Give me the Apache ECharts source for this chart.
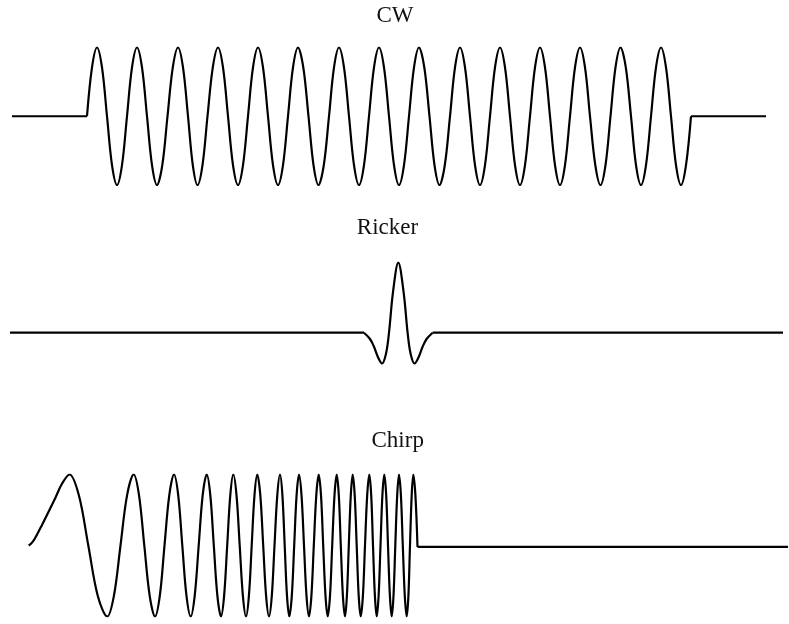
<!DOCTYPE html>
<html>
<head>
<meta charset="utf-8">
<script src="https://cdn.jsdelivr.net/npm/echarts@6/dist/echarts.min.js"></script>
<style>
html,body{margin:0;padding:0;background:#fff;}
#chart{width:789px;height:624px;}
</style>
</head>
<body>
<div id="chart"></div>
<script>
// ---- Data (x = sample index, y = normalized amplitude) ----
var titles = ['CW', 'Ricker', 'Chirp'];

// CW: flat lead-in, 15 cycles of constant-frequency sine, flat tail
var cwLeadTime = [12, 87];
var cwLeadValue = [0, 0];
var cwTime = [87, 92, 97, 102, 107, 112, 117, 122, 127, 132, 137, 142, 147, 152, 157, 162.3, 167.5, 172.8, 178, 183, 188, 192.8, 197.5, 202.5, 207.5, 212.8, 218, 223, 228, 233, 238, 243, 248, 253, 258, 263, 268, 273, 278, 283, 288, 293, 298, 303.3, 308.5, 313.5, 318.5, 323.8, 329, 334, 339, 344, 349, 354, 359, 364, 369, 374, 379, 384, 389, 394, 399, 404, 409, 414, 419, 424.3, 429.5, 434.5, 439.5, 444.8, 450, 455, 460, 465, 470, 475, 480, 485, 490, 495, 500, 505, 510, 515, 520, 525, 530, 535, 540, 545, 550, 555, 560, 565, 570, 575, 580, 585, 590, 595.3, 600.5, 605.5, 610.5, 615.5, 620.5, 625.8, 631, 636, 641, 646, 651, 656, 661, 666, 671, 676, 681, 686, 691];
var cwValue = [
  0, 0.71, 1, 0.71, 0, -0.71, -1, -0.71,
  0, 0.71, 1, 0.71, 0, -0.71, -1, -0.71,
  0, 0.71, 1, 0.71, 0, -0.71, -1, -0.71,
  0, 0.71, 1, 0.71, 0, -0.71, -1, -0.71,
  0, 0.71, 1, 0.71, 0, -0.71, -1, -0.71,
  0, 0.71, 1, 0.71, 0, -0.71, -1, -0.71,
  0, 0.71, 1, 0.71, 0, -0.71, -1, -0.71,
  0, 0.71, 1, 0.71, 0, -0.71, -1, -0.71,
  0, 0.71, 1, 0.71, 0, -0.71, -1, -0.71,
  0, 0.71, 1, 0.71, 0, -0.71, -1, -0.71,
  0, 0.71, 1, 0.71, 0, -0.71, -1, -0.71,
  0, 0.71, 1, 0.71, 0, -0.71, -1, -0.71,
  0, 0.71, 1, 0.71, 0, -0.71, -1, -0.71,
  0, 0.71, 1, 0.71, 0, -0.71, -1, -0.71,
  0, 0.71, 1, 0.71, 0, -0.71, -1, -0.71,
  0];
var cwTailTime = [691, 766];
var cwTailValue = [0, 0];

// Ricker wavelet
var rickerLeadTime = [10, 364];
var rickerLeadValue = [0, 0];
var rickerTime = [364, 370, 374, 378, 382, 386, 389, 393, 398.3, 403.6, 407.6, 410.6, 414.6, 418.6, 422.6, 426.6, 432.6];
var rickerValue = [0, -0.09, -0.2, -0.35, -0.44, -0.3, 0, 0.58, 1, 0.58, 0, -0.3, -0.44, -0.35, -0.2, -0.09, 0];
var rickerTailTime = [432.6, 783];
var rickerTailValue = [0, 0];

// Chirp: rising frequency, then flat tail
var chirpTime = [28.7, 32, 35.3, 42, 48.7, 55.3, 62, 69.5, 78.8, 88.3, 97.8, 107.3, 113.9, 120.5, 127.1, 133.7, 139, 144.3, 149.7, 155, 159.8, 164.5, 169.3, 174, 178.2, 182.3, 186.5, 190.7, 194.7, 198.7, 202.7, 206.7, 210.3, 213.8, 217.4, 221, 224.1, 227.2, 230.3, 233.3, 236.5, 239.7, 242.9, 246, 248.9, 251.7, 254.5, 257.3, 260.3, 263.2, 266.1, 269, 271.8, 274.5, 277.3, 280, 282.4, 284.7, 287, 289.3, 291.8, 294.2, 296.6, 299, 301.5, 304, 306.5, 309, 311.4, 313.8, 316.3, 318.7, 321, 323.2, 325.5, 327.7, 330, 332.2, 334.5, 336.7, 338.8, 340.8, 342.9, 345, 346.9, 348.8, 350.8, 352.7, 354.7, 356.7, 358.7, 360.7, 362.9, 365, 367.2, 369.3, 371.2, 373, 374.9, 376.7, 378.6, 380.5, 382.4, 384.3, 386.2, 388, 389.9, 391.7, 393.5, 395.3, 397.2, 399, 400.9, 402.8, 404.8, 406.7, 408.4, 410, 411.7, 413.3, 415.4, 417.5];
var chirpValue = [
  0, 0.04, 0.11, 0.29, 0.48, 0.67, 0.87, 1, 0.71, 0, -0.71, -1, -0.71,
  0, 0.71, 1, 0.71, 0, -0.71, -1, -0.71,
  0, 0.71, 1, 0.71, 0, -0.71, -1, -0.71,
  0, 0.71, 1, 0.71, 0, -0.71, -1, -0.71,
  0, 0.71, 1, 0.71, 0, -0.71, -1, -0.71,
  0, 0.71, 1, 0.71, 0, -0.71, -1, -0.71,
  0, 0.71, 1, 0.71, 0, -0.71, -1, -0.71,
  0, 0.71, 1, 0.71, 0, -0.71, -1, -0.71,
  0, 0.71, 1, 0.71, 0, -0.71, -1, -0.71,
  0, 0.71, 1, 0.71, 0, -0.71, -1, -0.71,
  0, 0.71, 1, 0.71, 0, -0.71, -1, -0.71,
  0, 0.71, 1, 0.71, 0, -0.71, -1, -0.71,
  0, 0.71, 1, 0.71, 0, -0.71, -1, -0.71,
  0, 0.71, 1, 0.71, 0, -0.71, -1, -0.71,
  0, 0.71, 1, 0.71, -0.02];
var chirpTailTime = [417.5, 788];
var chirpTailValue = [-0.02, -0.02];

// ---- Build ----
function zip(t, v) { return t.map(function (x, i) { return [x, v[i]]; }); }

var grids = [
  { left: 0, right: 0, top: 47.5, height: 137.5 },
  { left: 0, right: 0, top: 262.7, height: 140 },
  { left: 0, right: 0, top: 474.5, height: 142 }
];
var xAxes = grids.map(function (g, i) {
  return { type: 'value', gridIndex: i, min: 0, max: 789, show: false };
});
var yAxes = grids.map(function (g, i) {
  return { type: 'value', gridIndex: i, min: -1, max: 1, show: false };
});

var lineStyle = { color: '#000', width: 2.2 };
function mk(i, data, smooth) {
  return {
    type: 'line', xAxisIndex: i, yAxisIndex: i, data: data,
    smooth: smooth, symbol: 'none', silent: true, animation: false,
    lineStyle: lineStyle
  };
}

var series = [
  mk(0, zip(cwLeadTime, cwLeadValue), false),
  mk(0, zip(cwTime, cwValue), 0.35),
  mk(0, zip(cwTailTime, cwTailValue), false),
  mk(1, zip(rickerLeadTime, rickerLeadValue), false),
  mk(1, zip(rickerTime, rickerValue), 0.35),
  mk(1, zip(rickerTailTime, rickerTailValue), false),
  mk(2, zip(chirpTime, chirpValue), 0.35),
  mk(2, zip(chirpTailTime, chirpTailValue), false)
];

var titleCenters = [390, 382.5, 392.7];
var titleTops = [-1, 211.5, 424.5];
var titleOpts = titles.map(function (t, i) {
  return {
    text: t, left: titleCenters[i], top: titleTops[i], textAlign: 'center',
    textStyle: { fontFamily: 'Liberation Serif', fontWeight: 'normal', fontSize: 23, color: '#111' }
  };
});

var chart = echarts.init(document.getElementById('chart'), null, { renderer: 'canvas' });
chart.setOption({
  backgroundColor: '#fff',
  animation: false,
  title: titleOpts,
  grid: grids,
  xAxis: xAxes,
  yAxis: yAxes,
  series: series
});
</script>
</body>
</html>
